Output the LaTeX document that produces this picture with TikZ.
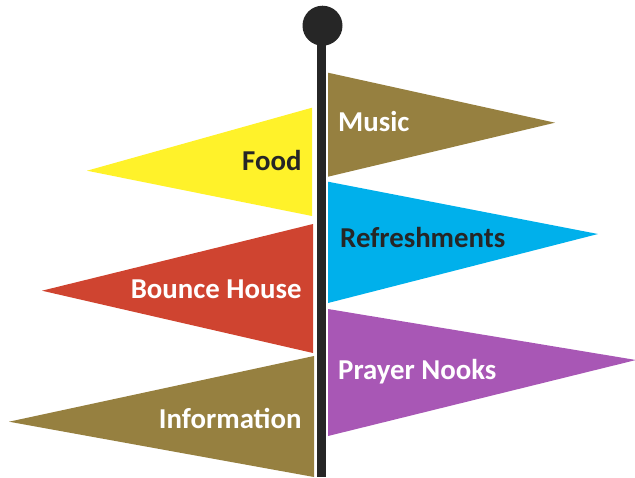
\documentclass[tikz,border=0pt]{standalone}
\usepackage{fontspec}
\setmainfont{Carlito}
\definecolor{goldc}{HTML}{968040}
\definecolor{yellowc}{HTML}{FFF22A}
\definecolor{cyanc}{HTML}{00B0EB}
\definecolor{redc}{HTML}{CF4430}
\definecolor{purplec}{HTML}{A857B5}
\definecolor{darkc}{HTML}{262626}
\begin{document}
\begin{tikzpicture}[x=1pt,y=-1pt,
  lbl/.style={inner sep=0pt,font=\fontsize{28.8}{32}\selectfont\bfseries},
  lblL/.style={lbl,anchor=base east},
  lblR/.style={lbl,anchor=base west}]
\useasboundingbox (0,0) rectangle (635,477);
% right flags
\fill[goldc] (328,72.7) -- (555,122.7) -- (328,176.7) -- cycle;
\fill[cyanc] (328,181.7) -- (598,234) -- (328,303) -- cycle;
\fill[purplec] (328,309) -- (636,360) -- (328,436) -- cycle;
% left flags
\fill[yellowc] (312,107.7) -- (87,170.7) -- (312,216) -- cycle;
\fill[redc] (313,224) -- (42,290.7) -- (313,353) -- cycle;
\fill[goldc] (314,356) -- (9,421.7) -- (314,477) -- cycle;
% pole
\fill[darkc] (317.3,25) rectangle (325.7,477);
\fill[darkc] (322.5,25.7) circle (20);
% labels
\node[lblR,text=white] (music) at (338,131.7) {Music};
\node[lblL,text=darkc] (food) at (301.7,170.7) {Food};
\node[lblR,text=darkc] (refresh) at (340,247.3) {Refreshments};
\node[lblL,text=white] (bounce) at (301.7,298.3) {Bounce House};
\node[lblR,text=white] (prayer) at (338,379.3) {Prayer Nooks};
\node[lblL,text=white] (info) at (301.7,428.3) {Information};
\end{tikzpicture}
\end{document}
